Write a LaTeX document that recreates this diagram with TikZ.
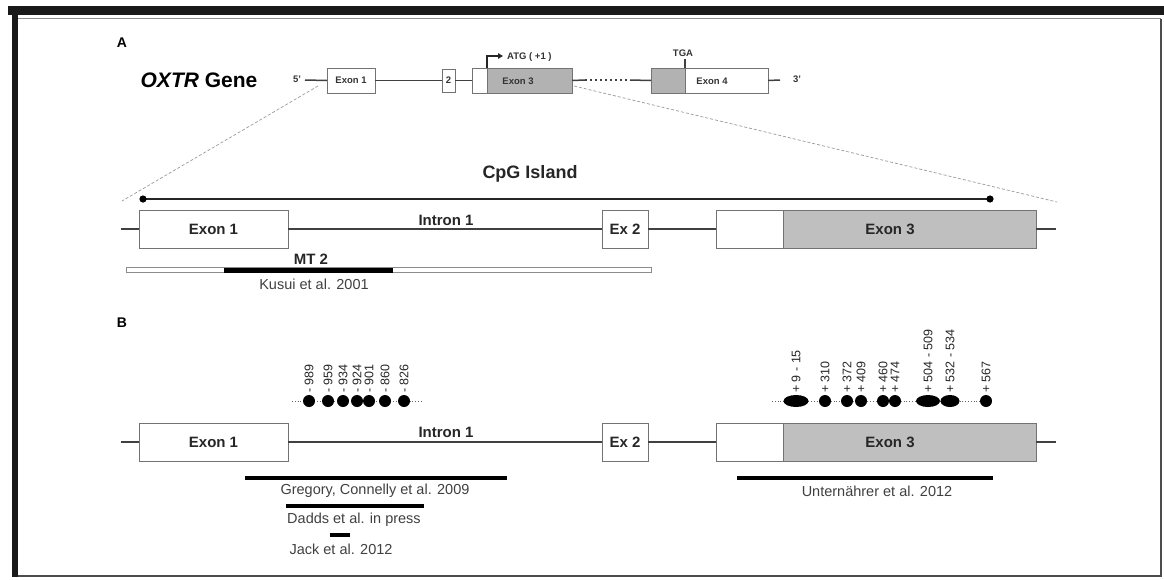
\documentclass[tikz,border=0pt]{standalone}
\usepackage{fontspec}
\setmainfont{Liberation Sans}
\usetikzlibrary{arrows.meta}
\tikzset{
  box/.style={draw=black!55, line width=0.9pt, inner sep=0pt, outer sep=0pt, text=black!85},
  grayfill/.style={fill=black!30},
  grayfillB/.style={fill=black!25},
  gline/.style={draw=black!75, line width=1.3pt},
  zoomline/.style={draw=black!40, dashed, dash pattern=on 3pt off 2pt, line width=0.7pt},
  small/.style={font=\bfseries\fontsize{9.5}{9.5}\selectfont, text=black!80, inner sep=0pt},
  big/.style={font=\bfseries\fontsize{15}{15}\selectfont, text=black!85, inner sep=0pt},
  cite/.style={font=\fontsize{14.5}{14.5}\selectfont, text=black!75, inner sep=0pt},
  citebar/.style={line width=4.5pt, black},
  dot/.style={circle, fill=black, inner sep=0pt, minimum size=12pt},
  edot/.style={ellipse, fill=black, inner sep=0pt, minimum height=12pt},
  num/.style={rotate=90, anchor=west, inner sep=0pt, font=\fontsize{12.5}{12.5}\selectfont, text=black!85},
  dotline/.style={draw=black!60, dotted, line width=0.8pt}
}
\usetikzlibrary{shapes.geometric}
\begin{document}
\begin{tikzpicture}[x=1pt,y=-1pt]
\useasboundingbox (0,0) rectangle (1164,579);
% frame
\fill[black!90] (8,6) rectangle (1164,15);
\draw[black!45, line width=1pt] (17,18.5) -- (1161,18.5);
\fill[black!90] (12,15) rectangle (18,577);
\draw[black!70, line width=1.2pt] (18,576) -- (1161,576) -- (1161,18.5);

% ================= Panel A =================
\node[font=\bfseries\fontsize{14}{14}\selectfont, inner sep=0pt] (labA) at (122,43) {A};
\node[font=\bfseries\fontsize{21}{21}\selectfont, inner sep=0pt] (oxtr) at (199,80) {\textit{OXTR} Gene};

% top gene
\node[small] (t5) at (297,79) {5'};
\node[box, minimum width=48pt, minimum height=25pt, small] (te1) at (351,80.5) {Exon 1};
\node[box, minimum width=13pt, minimum height=23pt, small] (te2) at (448.5,80.5) {2};
\node[box, minimum width=15pt, minimum height=25pt] (te3w) at (479.5,80.5) {};
\node[box, grayfill, minimum width=85pt, minimum height=25pt] (te3g) at (529.5,80.5) {};
\node[small] (te3t) at (518,81) {Exon 3};
\node[box, grayfill, minimum width=34pt, minimum height=25pt] (te4g) at (668,80.5) {};
\node[box, minimum width=83pt, minimum height=25pt] (te4w) at (726.5,80.5) {};
\node[small] (te4t) at (712,81) {Exon 4};
\node[small] (t3) at (797,79) {3'};
\coordinate (s5) at (305,80);
\coordinate (d1) at (585,80);
\coordinate (d2) at (630,80);
\coordinate (e3) at (780,80);
\draw[black!75, line width=1.5pt] (s5) -- (te1.west);
\draw[black!75, line width=1.5pt] (te1.east) -- (te2.west);
\draw[black!75, line width=1.5pt] (te2.east) -- (te3w.west);
\draw[black!75, line width=1.5pt] (te3g.east) -- (d1);
\draw[black!75, line width=1.5pt, dash pattern=on 2pt off 3pt] (d1) -- (d2);
\draw[black!75, line width=1.5pt] (d2) -- (te4g.west);
\draw[black!75, line width=1.5pt] (te4w.east) -- (e3);
% ATG
\coordinate (atgup) at (487,56);
\coordinate (atgend) at (503,56);
\draw[black!85, line width=1.1pt, -{Triangle[length=5pt,width=5.5pt]}] (te3g.north west) -- (atgup) -- (atgend);
\node[small, anchor=west] (atg) at (507,57) {ATG ( +1 )};
% TGA
\coordinate (tgaup) at (685,59);
\draw[black!75, line width=1.1pt] (te4g.north east) -- (tgaup);
\node[small] (tga) at (683,53) {TGA};

% zoom lines
\coordinate (zl) at (122,201);
\coordinate (zr) at (1057,202);
\draw[zoomline] (318,86) -- (zl);
\draw[zoomline] (574,86) -- (zr);

% lower A
\node[font=\bfseries\fontsize{18}{18}\selectfont, text=black!85, inner sep=0pt] (cpg) at (530,174) {CpG Island};
\coordinate (cpgL) at (143,199);
\coordinate (cpgR) at (990,199);
\draw[black!85, line width=1.6pt] (cpgL) -- (cpgR);
\fill[black] (cpgL) circle (3.6pt);
\fill[black] (cpgR) circle (3.6pt);

\coordinate (aL) at (121,229);
\coordinate (aR) at (1056,229);
\node[box, minimum width=149pt, minimum height=38pt, font=\bfseries\fontsize{15}{15}\selectfont] (ae1) at (213.5,229) {Exon 1};
\node[box, minimum width=46pt, minimum height=38pt, font=\bfseries\fontsize{15}{15}\selectfont] (ae2) at (625,229) {Ex 2};
\node[box, minimum width=67pt, minimum height=38pt] (ae3w) at (749.5,229) {};
\node[box, grayfillB, minimum width=253pt, minimum height=38pt] (ae3g) at (909.5,229) {};
\node[big] (ae3t) at (890,229) {Exon 3};
\draw[gline] (aL) -- (ae1.west);
\draw[gline] (ae1.east) -- (ae2.west);
\draw[gline] (ae2.east) -- (ae3w.west);
\draw[gline] (ae3g.east) -- (aR);
\node[big] (ai1) at (446,220) {Intron 1};

\node[big] (mt2) at (311,259) {MT 2};
\draw[black!45, fill=white, line width=0.7pt] (126,267.5) rectangle (651,272.5);
\fill[black] (224,267.5) rectangle (393,272.5);
\node[cite] (kusui) at (314,284) {Kusui et al. 2001};

% ================= Panel B =================
\node[font=\bfseries\fontsize{14}{14}\selectfont, inner sep=0pt] (labB) at (122,323) {B};

% left CpG sites
\coordinate (lds) at (292,401);
\coordinate (lde) at (423,401);
\draw[dotline] (lds) -- (lde);
\node[dot] (m989) at (309,401) {};
\node[dot] (m959) at (328,401) {};
\node[dot] (m934) at (343,401) {};
\node[dot] (m924) at (357,401) {};
\node[dot] (m901) at (369,401) {};
\node[dot] (m860) at (385,401) {};
\node[dot] (m826) at (404,401) {};
\node[num] (n989) at (309,393) {- 989};
\node[num] (n959) at (328,393) {- 959};
\node[num] (n934) at (343,393) {- 934};
\node[num] (n924) at (357,393) {- 924};
\node[num] (n901) at (369,393) {- 901};
\node[num] (n860) at (385,393) {- 860};
\node[num] (n826) at (404,393) {- 826};

% right CpG sites
\coordinate (rds) at (772,401);
\coordinate (rde) at (987,401);
\draw[dotline] (rds) -- (rde);
\node[edot, minimum width=25pt] (p9) at (796,401) {};
\node[dot] (p310) at (825,401) {};
\node[dot] (p372) at (847,401) {};
\node[dot] (p409) at (861,401) {};
\node[dot] (p460) at (883,401) {};
\node[dot] (p474) at (895,401) {};
\node[edot, minimum width=24pt] (p504) at (928,401) {};
\node[edot, minimum width=19pt] (p532) at (950,401) {};
\node[dot] (p567) at (986,401) {};
\node[num] (q9) at (796,393) {+ 9 - 15};
\node[num] (q310) at (825,393) {+ 310};
\node[num] (q372) at (847,393) {+ 372};
\node[num] (q409) at (861,393) {+ 409};
\node[num] (q460) at (883,393) {+ 460};
\node[num] (q474) at (895,393) {+ 474};
\node[num] (q504) at (928,393) {+ 504 - 509};
\node[num] (q532) at (950,393) {+ 532 - 534};
\node[num] (q567) at (986,393) {+ 567};

% gene B
\coordinate (bL) at (121,442);
\coordinate (bR) at (1056,442);
\node[box, minimum width=149pt, minimum height=38pt, font=\bfseries\fontsize{15}{15}\selectfont] (be1) at (213.5,442) {Exon 1};
\node[box, minimum width=46pt, minimum height=38pt, font=\bfseries\fontsize{15}{15}\selectfont] (be2) at (625,442) {Ex 2};
\node[box, minimum width=67pt, minimum height=38pt] (be3w) at (749.5,442) {};
\node[box, grayfillB, minimum width=253pt, minimum height=38pt] (be3g) at (909.5,442) {};
\node[big] (be3t) at (890,442) {Exon 3};
\draw[gline] (bL) -- (be1.west);
\draw[gline] (be1.east) -- (be2.west);
\draw[gline] (be2.east) -- (be3w.west);
\draw[gline] (be3g.east) -- (bR);
\node[big] (bi1) at (446,432) {Intron 1};

% studies
\draw[citebar] (245,478) -- (507,478);
\node[cite] (greg) at (375,491) {Gregory, Connelly et al. 2009};
\draw[citebar] (286,506) -- (424,506);
\node[cite] (dadds) at (354,520) {Dadds et al. in press};
\draw[citebar] (330,535) -- (350,535);
\node[cite] (jack) at (341,549) {Jack et al. 2012};
\draw[citebar] (737,478) -- (993,478);
\node[cite] (unter) at (877,491) {Unternährer et al. 2012};
\end{tikzpicture}
\end{document}
